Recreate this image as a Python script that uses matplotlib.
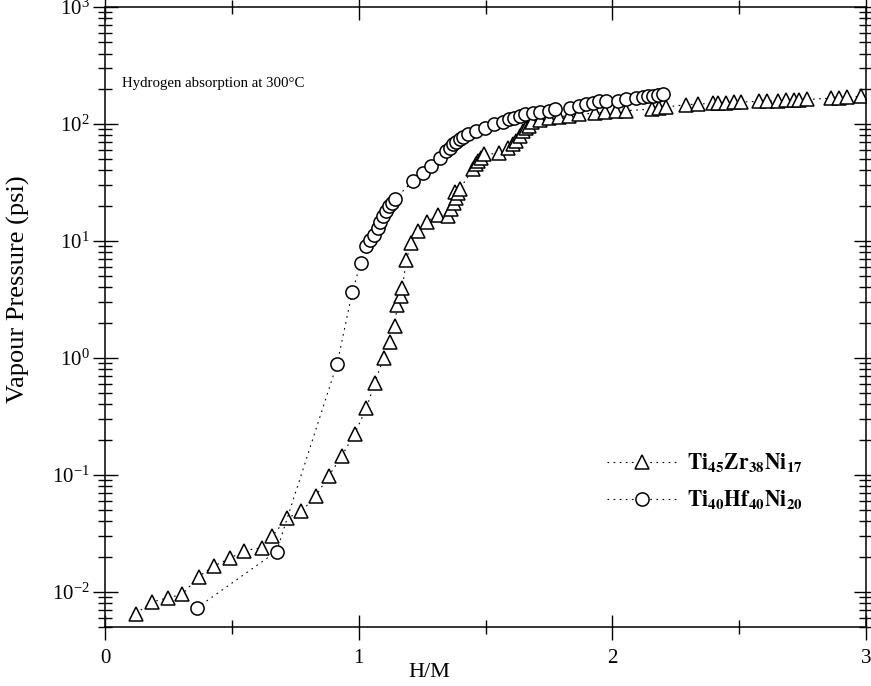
import matplotlib as mpl
import matplotlib.pyplot as plt
from matplotlib.ticker import LogLocator, MultipleLocator, NullFormatter

mpl.rcParams['font.family'] = 'Liberation Serif'
mpl.rcParams['mathtext.fontset'] = 'stix'

# Ti45Zr38Ni17 (triangles)
tri_hm = [0.121, 0.186, 0.249, 0.304, 0.369, 0.429, 0.492, 0.549, 0.619, 0.659,
          0.718, 0.774, 0.831, 0.881, 0.933, 0.984, 1.030, 1.063, 1.098, 1.122,
          1.142, 1.152, 1.165, 1.172, 1.188, 1.207, 1.234, 1.269, 1.312, 1.352,
          1.365, 1.374, 1.378, 1.382, 1.391, 1.398, 1.450, 1.463, 1.472, 1.483,
          1.493, 1.555, 1.590, 1.607, 1.621, 1.634, 1.647, 1.660, 1.673, 1.685,
          1.713, 1.752, 1.791, 1.830, 1.870, 1.930, 1.969, 2.016, 2.054, 2.157,
          2.185, 2.213, 2.290, 2.336, 2.395, 2.415, 2.448, 2.480, 2.507, 2.579,
          2.611, 2.651, 2.684, 2.717, 2.736, 2.769, 2.861, 2.894, 2.926, 2.979]
tri_p = [0.0065, 0.0082, 0.0089, 0.0095, 0.0135, 0.0166, 0.0193, 0.0225, 0.0238, 0.030,
         0.0427, 0.0486, 0.066, 0.097, 0.145, 0.225, 0.37, 0.61, 1.0, 1.37,
         1.88, 2.84, 3.4, 3.99, 6.9, 9.6, 12.2, 14.5, 16.8, 16.4,
         18.8, 21.3, 26.2, 23.4, 25.9, 27.7, 41.0, 45.3, 48.3, 51.5,
         55.1, 56.0, 62.0, 67.0, 71.6, 79.0, 87.0, 93.0, 96.0, 104.0,
         108.0, 112.0, 115.0, 118.0, 121.0, 124.0, 126.0, 128.0, 130.0, 134.0,
         137.0, 140.0, 146.0, 148.0, 150.0, 151.0, 152.0, 153.0, 154.0, 156.0,
         157.0, 158.0, 159.0, 160.0, 161.0, 162.0, 166.0, 168.0, 170.0, 172.0]

# Ti40Hf40Ni20 (circles)
cir_hm = [0.361, 0.676, 0.915, 0.975, 1.008, 1.030, 1.045, 1.060, 1.076, 1.085,
          1.096, 1.106, 1.119, 1.130, 1.142, 1.214, 1.253, 1.286, 1.319, 1.345,
          1.358, 1.371, 1.385, 1.398, 1.411, 1.430, 1.463, 1.496, 1.535, 1.568,
          1.594, 1.614, 1.634, 1.654, 1.686, 1.713, 1.752, 1.772, 1.831, 1.870,
          1.896, 1.922, 1.949, 1.975, 2.021, 2.054, 2.093, 2.119, 2.139, 2.159,
          2.178, 2.198]
cir_p = [0.00726, 0.0221, 0.894, 3.67, 6.5, 9.06, 10.2, 11.2, 13.0, 14.6,
         16.4, 18.0, 19.9, 21.3, 22.7, 32.6, 38.4, 43.8, 51.5, 58.8,
         62.7, 67.0, 70.6, 74.0, 77.4, 81.6, 87.1, 93.0, 99.4, 104.7,
         109.7, 113.0, 117.0, 121.0, 125.0, 127.0, 129.0, 134.0, 138.0, 143.0,
         147.0, 152.0, 157.0, 157.0, 157.0, 163.0, 168.0, 170.0, 173.0, 173.0,
         177.0, 179.0]

tri_label = r'$\mathbf{Ti_{45}Zr_{38}Ni_{17}}$'
cir_label = r'$\mathbf{Ti_{40}Hf_{40}Ni_{20}}$'

fig = plt.figure(figsize=(8.71, 6.86), dpi=100)
ax = fig.add_axes([0.1206, 0.086, 0.8737, 0.9038])

ls = (0, (1.5, 4))
ax.plot(tri_hm, tri_p, color='black', linestyle=ls, linewidth=0.8,
        marker='^', markersize=10, markerfacecolor='white',
        markeredgecolor='black', markeredgewidth=1.1, label=tri_label)
ax.plot(cir_hm, cir_p, color='black', linestyle=ls, linewidth=0.8,
        marker='o', markersize=9.5, markerfacecolor='white',
        markeredgecolor='black', markeredgewidth=1.1, label=cir_label)

ax.set_yscale('log')
ax.set_xlim(0, 3)
ax.set_ylim(0.005, 1000)
ax.xaxis.set_major_locator(MultipleLocator(1))
ax.xaxis.set_minor_locator(MultipleLocator(0.5))
ax.yaxis.set_major_locator(LogLocator(base=10, numticks=20))
ax.yaxis.set_minor_locator(LogLocator(base=10, subs=range(2, 10), numticks=20))
ax.yaxis.set_minor_formatter(NullFormatter())

ax.tick_params(which='both', direction='inout', top=True, right=True,
               width=1.0, labelsize=15)
ax.tick_params(which='major', length=18)
ax.tick_params(which='minor', length=10)
ax.tick_params(axis='x', pad=7)
ax.tick_params(axis='y', pad=2)
for s in ax.spines.values():
    s.set_linewidth(1.1)

ax.set_xlabel('H/M', fontsize=16)
ax.xaxis.set_label_coords(0.426, -0.058)
ax.set_ylabel('Vapour Pressure (psi)', fontsize=19)
ax.yaxis.set_label_coords(-0.098, 0.545)

ax.text(0.022, 0.876, 'Hydrogen absorption at 300°C', transform=ax.transAxes,
        fontsize=10.7, va='center', ha='left')

ax.legend(loc='center left', bbox_to_anchor=(0.634, 0.234), frameon=False,
          fontsize=15.5, handlelength=3.3, labelspacing=0.65, numpoints=1,
          handletextpad=0.4)

fig.savefig('out.png', dpi=100)
